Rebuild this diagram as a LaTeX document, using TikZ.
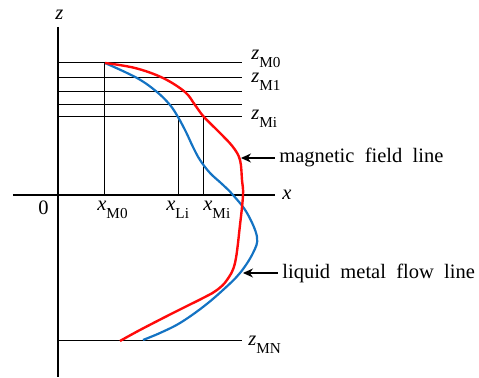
\documentclass[tikz,border=0pt]{standalone}
\usepackage{fontspec}
\setmainfont{Liberation Serif}
\newfontfamily\timesfont{Liberation Serif}
\usetikzlibrary{arrows.meta}
\definecolor{fieldred}{RGB}{255,10,10}
\definecolor{flowblue}{RGB}{20,115,195}
\newcommand{\lsub}[1]{\raisebox{-3.6pt}{\fontsize{7.6}{9}\selectfont #1}}
\begin{document}
\begin{tikzpicture}[x=0.5pt, y=-0.5pt, >={Stealth[length=5pt,width=4.5pt]},
    lab/.style={inner sep=0pt, anchor=base west, font=\timesfont\fontsize{10.25}{12}\selectfont},
    note/.style={inner sep=2pt, anchor=west, font=\timesfont\fontsize{10.25}{12}\selectfont}]
    \useasboundingbox (0,0) rectangle (479,378);

    % axes
    \draw[line width=0.6pt] (58,27) -- (58,377);
    \draw[line width=0.6pt] (13,195) -- (275,195);

    % levels and abscissae
    \foreach \y in {63,78,92,105,117,341}
        \draw[line width=0.5pt] (58,\y) -- (242,\y);
    \draw[line width=0.5pt] (105,63) -- (105,195);
    \draw[line width=0.5pt] (179,117) -- (179,195);
    \draw[line width=0.5pt] (204,117) -- (204,195);

    % lines
    \draw[flowblue, line width=1.1pt] plot[smooth, tension=0.6] coordinates {
        (105,63) (137,78) (157,92) (170,105) (178,117) (186,132) (193,147)
        (200,160) (210,173) (222,184) (233,195) (247,213) (257,237)
        (253,253) (240,273) (223,290) (203,307) (180,323) (160,333) (143,340)};
    \draw[fieldred, line width=1.2pt] plot[smooth, tension=0.6] coordinates {
        (105,63) (135,68) (163,78) (185,92) (195,105) (204,117) (220,133)
        (233,147) (240,160) (242,180) (243,195) (240,225) (235,263)
        (227,280) (217,290) (205,297) (173,313) (140,330) (120,341)};

    % labels
    \node[lab] (zax) at (55,20) {\textit{z}};
    \node[lab] (xax) at (282,200) {\textit{x}};
    \node[lab] (orig) at (38,215) {0};
    \node[lab] (zM0) at (251,60) {\textit{z}\lsub{M0}};
    \node[lab] (zM1) at (251,83) {\textit{z}\lsub{M1}};
    \node[lab] (zMi) at (251,120) {\textit{z}\lsub{Mi}};
    \node[lab] (zMN) at (248,346) {\textit{z}\lsub{MN}};
    \node[lab] (xM0) at (97,211) {\textit{x}\lsub{M0}};
    \node[lab] (xLi) at (166,211) {\textit{x}\lsub{Li}};
    \node[lab] (xMi) at (203,211) {\textit{x}\lsub{Mi}};

    % notes
    \node[note] (mfl) at (275,158) {magnetic~~field~~line};
    \node[note] (lfl) at (278,273) {liquid~~metal~~flow~~line};
    \coordinate (mtip) at (241,158);
    \coordinate (ltip) at (243,273);
    \draw[->, line width=0.6pt] (mfl.west) -- (mtip);
    \draw[->, line width=0.6pt] (lfl.west) -- (ltip);
\end{tikzpicture}
\end{document}
